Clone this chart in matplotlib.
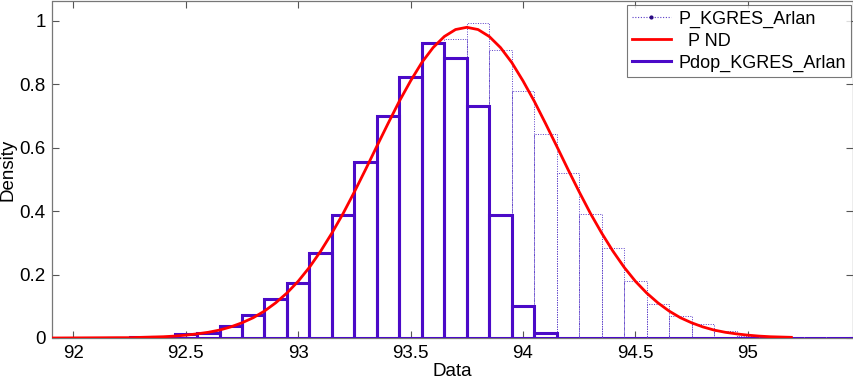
import matplotlib
matplotlib.use("Agg")
import matplotlib.pyplot as plt
import numpy as np
from matplotlib.lines import Line2D

plt.rcParams['font.family'] = ['Liberation Sans', 'DejaVu Sans']

# bin centres (width 0.1)
bin_centers = [92.2, 92.3, 92.4, 92.5, 92.6, 92.7, 92.8, 92.9, 93.0, 93.1, 93.2,
               93.3, 93.4, 93.5, 93.6, 93.7, 93.8, 93.9, 94.0, 94.1, 94.2, 94.3,
               94.4, 94.5, 94.6, 94.7, 94.8, 94.9, 95.0, 95.1, 95.2, 95.3, 95.4, 95.5]
# Pdop_KGRES_Arlan (solid)
pdop = [0.0, 0.002, 0.004, 0.012, 0.016, 0.038, 0.074, 0.123, 0.175, 0.268, 0.388,
        0.556, 0.700, 0.824, 0.932, 0.882, 0.733, 0.387, 0.101, 0.015, 0.0, 0.0,
        0.0, 0.0, 0.0, 0.0, 0.0, 0.0, 0.0, 0.0, 0.0, 0.0, 0.0, 0.0]
# P_KGRES_Arlan (dotted)
pk = [0.0, 0.002, 0.004, 0.012, 0.016, 0.038, 0.074, 0.123, 0.175, 0.268, 0.388,
      0.556, 0.700, 0.824, 0.932, 0.942, 0.993, 0.907, 0.779, 0.643, 0.521, 0.390,
      0.283, 0.180, 0.107, 0.070, 0.044, 0.021, 0.006, 0.0, 0.0, 0.0, 0.0, 0.0]

# P ND curve
nd_x = [91.90, 92.20, 92.25, 92.30, 92.35, 92.40, 92.45, 92.50, 92.55, 92.60, 92.65,
        92.70, 92.75, 92.80, 92.85, 92.90, 92.95, 93.00, 93.05, 93.10, 93.15,
        93.20, 93.25, 93.30, 93.35, 93.40, 93.45, 93.50, 93.55, 93.60, 93.65,
        93.70, 93.75, 93.80, 93.85, 93.90, 93.95, 94.00, 94.05, 94.10, 94.15,
        94.20, 94.25, 94.30, 94.35, 94.40, 94.45, 94.50, 94.55, 94.60, 94.65,
        94.70, 94.75, 94.80, 94.85, 94.90, 94.95, 95.00, 95.05, 95.10, 95.15, 95.20]
nd_y = [0.0, 0.001, 0.001, 0.002, 0.003, 0.004, 0.006, 0.009, 0.013, 0.018, 0.025,
        0.035, 0.048, 0.064, 0.085, 0.111, 0.142, 0.179, 0.223, 0.274, 0.331,
        0.393, 0.461, 0.532, 0.605, 0.677, 0.747, 0.811, 0.869, 0.916, 0.951,
        0.973, 0.980, 0.973, 0.951, 0.916, 0.869, 0.811, 0.747, 0.677, 0.605,
        0.532, 0.461, 0.393, 0.331, 0.274, 0.223, 0.179, 0.142, 0.111, 0.085,
        0.064, 0.048, 0.035, 0.025, 0.018, 0.013, 0.009, 0.006, 0.004, 0.003, 0.002]

xticks = [92, 92.5, 93, 93.5, 94, 94.5, 95]
xticklabels = ['92', '92.5', '93', '93.5', '94', '94.5', '95']
yticks = [0, 0.2, 0.4, 0.6, 0.8, 1.0]
yticklabels = ['0', '0.2', '0.4', '0.6', '0.8', '1']

purple = '#4b0ac8'
dotc = '#5a3cc8'

fig = plt.figure(figsize=(8.54, 3.79), dpi=100)
ax = fig.add_axes([52.5/854, 1 - 338/379, (853 - 52.5)/854, (338 - 1)/379])

# dotted histogram
ax.bar(bin_centers, pk, width=0.1, fill=False, edgecolor=dotc, linewidth=0.7,
       linestyle=(0, (1, 1.5)), zorder=2)
# red ND curve
ax.plot(nd_x, nd_y, color='#ff0000', linewidth=2.0, zorder=4, solid_capstyle='butt')
# solid histogram
ax.bar(bin_centers, pdop, width=0.1, fill=False, edgecolor=purple, linewidth=2.2,
       zorder=3)

ax.set_xlim(91.907, 95.468)
ax.set_ylim(0, 1.063)
ax.set_xticks(xticks)
ax.set_xticklabels(xticklabels)
ax.set_yticks(yticks)
ax.set_yticklabels(yticklabels)
ax.tick_params(direction='in', top=True, right=True, length=5, width=0.8,
               color='#555555', labelsize=13.5, pad=5)
for s in ax.spines.values():
    s.set_color('#777777')
    s.set_linewidth(0.9)
ax.set_xlabel('Data', fontsize=13.5, labelpad=1)
ax.set_ylabel('Density', fontsize=13.5)
ax.yaxis.set_label_coords(-0.0445, 0.5)

handles = [
    Line2D([0, 0.5, 1], [0, 0, 0], color=dotc, linewidth=0.8, linestyle=(0, (1, 1.5)),
           marker='.', markersize=4, markevery=[1], markerfacecolor='#2a0a80',
           markeredgecolor='#2a0a80'),
    Line2D([], [], color='#ff0000', linewidth=2.0),
    Line2D([], [], color=purple, linewidth=2.2),
]
leg = ax.legend(handles, ['P_KGRES_Arlan', '  P ND', 'Pdop_KGRES_Arlan'],
                loc='upper right', bbox_to_anchor=(0.9975, 0.988), fontsize=13,
                frameon=True, fancybox=False, handlelength=2.15, handletextpad=0.4,
                borderpad=0.3, labelspacing=0.28, borderaxespad=0.0)
leg.get_frame().set_edgecolor('#555555')
leg.get_frame().set_linewidth(0.8)

fig.savefig('out.png', dpi=100)
